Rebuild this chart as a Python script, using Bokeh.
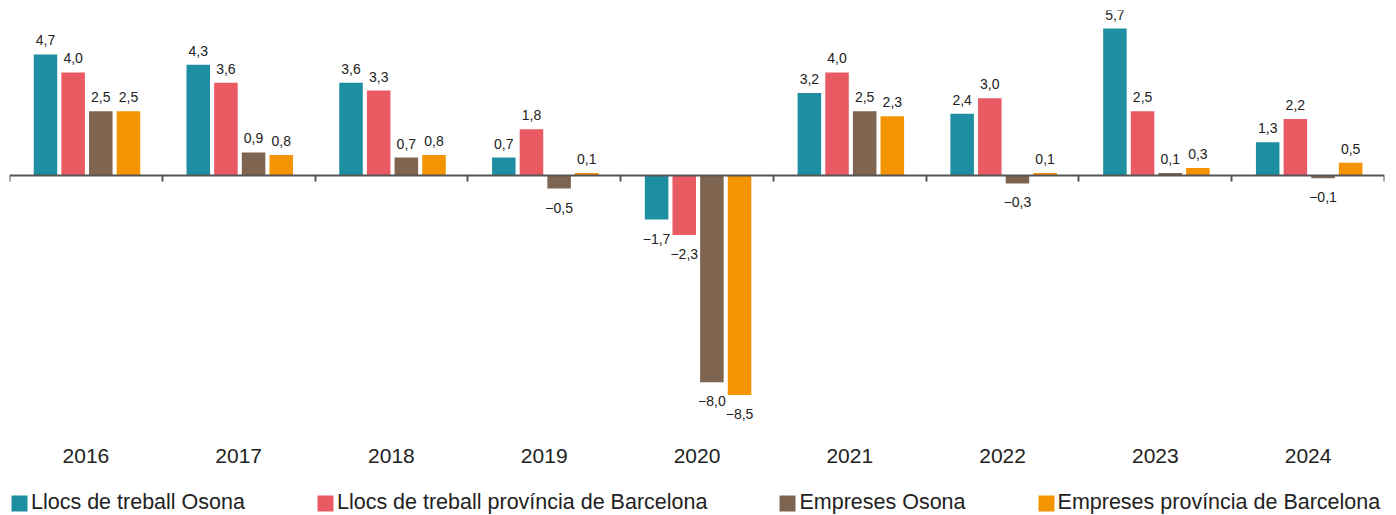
from bokeh.plotting import figure
from bokeh.models import (ColumnDataSource, FixedTicker, LinearAxis, Legend, LegendItem)
from bokeh.core.properties import value
from bokeh.embed import file_html
from bokeh.resources import INLINE

years = ["2016", "2017", "2018", "2019", "2020", "2021", "2022", "2023", "2024"]
series_names = ["Llocs de treball Osona", "Llocs de treball província de Barcelona",
                "Empreses Osona", "Empreses província de Barcelona"]
llocs_osona = [4.7, 4.3, 3.6, 0.7, -1.7, 3.2, 2.4, 5.7, 1.3]
llocs_bcn = [4.0, 3.6, 3.3, 1.8, -2.3, 4.0, 3.0, 2.5, 2.2]
empreses_osona = [2.5, 0.9, 0.7, -0.5, -8.0, 2.5, -0.3, 0.1, -0.1]
empreses_bcn = [2.5, 0.8, 0.8, 0.1, -8.5, 2.3, 0.1, 0.3, 0.5]
colors = ["#1e8fa2", "#e95a63", "#7f6450", "#f39400"]

series = [llocs_osona, llocs_bcn, empreses_osona, empreses_bcn]

FONT = "Liberation Sans, Arial, Helvetica, sans-serif"

PX = 25.81            # pixels per unit
FRAME_H = 505
Y_END = 6.4
Y_START = Y_END - FRAME_H / PX

p = figure(frame_width=1375, frame_height=FRAME_H, x_range=(0, 9), y_range=(Y_START, Y_END),
           output_backend="svg", toolbar_location=None, y_axis_location=None,
           x_axis_location=None,
           min_border_left=9, min_border_right=10, min_border_top=10, min_border_bottom=0)
p.outline_line_color = None
p.xgrid.visible = False
p.ygrid.visible = False
p.background_fill_color = "white"

step = 0.181
bar_w = 0.154
shift = 0.007
offsets = [(-1.5 + i) * step + shift for i in range(4)]

def fmt(v):
    return f"{v:.1f}".replace(".", ",").replace("-", "\u2212")

items = []
for i, (vals, name, col) in enumerate(zip(series, series_names, colors)):
    xs = [k + 0.5 + offsets[i] for k in range(len(years))]
    src = ColumnDataSource(dict(
        x=xs, top=vals, label=[fmt(v) for v in vals],
        yoff=[-14 if v >= 0 else 19 for v in vals]))
    r = p.vbar(x="x", top="top", bottom=0, width=bar_w, source=src,
               fill_color=col, line_color=None)
    p.text(x="x", y="top", text="label", y_offset="yoff", source=src,
           text_align="center", text_baseline="alphabetic",
           text_font=value(FONT), text_font_size="14px", text_color="#222222")
    items.append(LegendItem(label=name, renderers=[r]))

# year labels under the groups
ysrc = ColumnDataSource(dict(x=[k + 0.5 for k in range(len(years))],
                             y=[Y_START + 60 / PX] * len(years), text=years))
p.text(x="x", y="y", text="text", source=ysrc, text_align="center",
       text_baseline="middle", text_font=value(FONT), text_font_size="21px",
       text_color="#222222")

# zero line with group boundary ticks (ticks pointing down)
bounds = list(range(len(years) + 1))
za = LinearAxis(ticker=FixedTicker(ticks=bounds), fixed_location=0)
za.major_label_overrides = {b: "" for b in bounds}
za.axis_line_color = "#555555"
za.axis_line_width = 2
za.major_tick_line_color = "#555555"
za.major_tick_line_width = 2
za.major_tick_out = 0
za.major_tick_in = 6
za.minor_tick_line_color = None
za.major_label_standoff = 0
p.add_layout(za, "above")

legend = Legend(items=items, orientation="horizontal", location="bottom_left",
                glyph_width=20, glyph_height=20, label_standoff=2, spacing=70,
                padding=0, margin=0, border_line_color=None, background_fill_alpha=0,
                label_text_font=FONT, label_text_font_size="21.5px",
                label_text_color="#222222")
p.add_layout(legend, "center")

open("out.html", "w").write(file_html(p, INLINE))
